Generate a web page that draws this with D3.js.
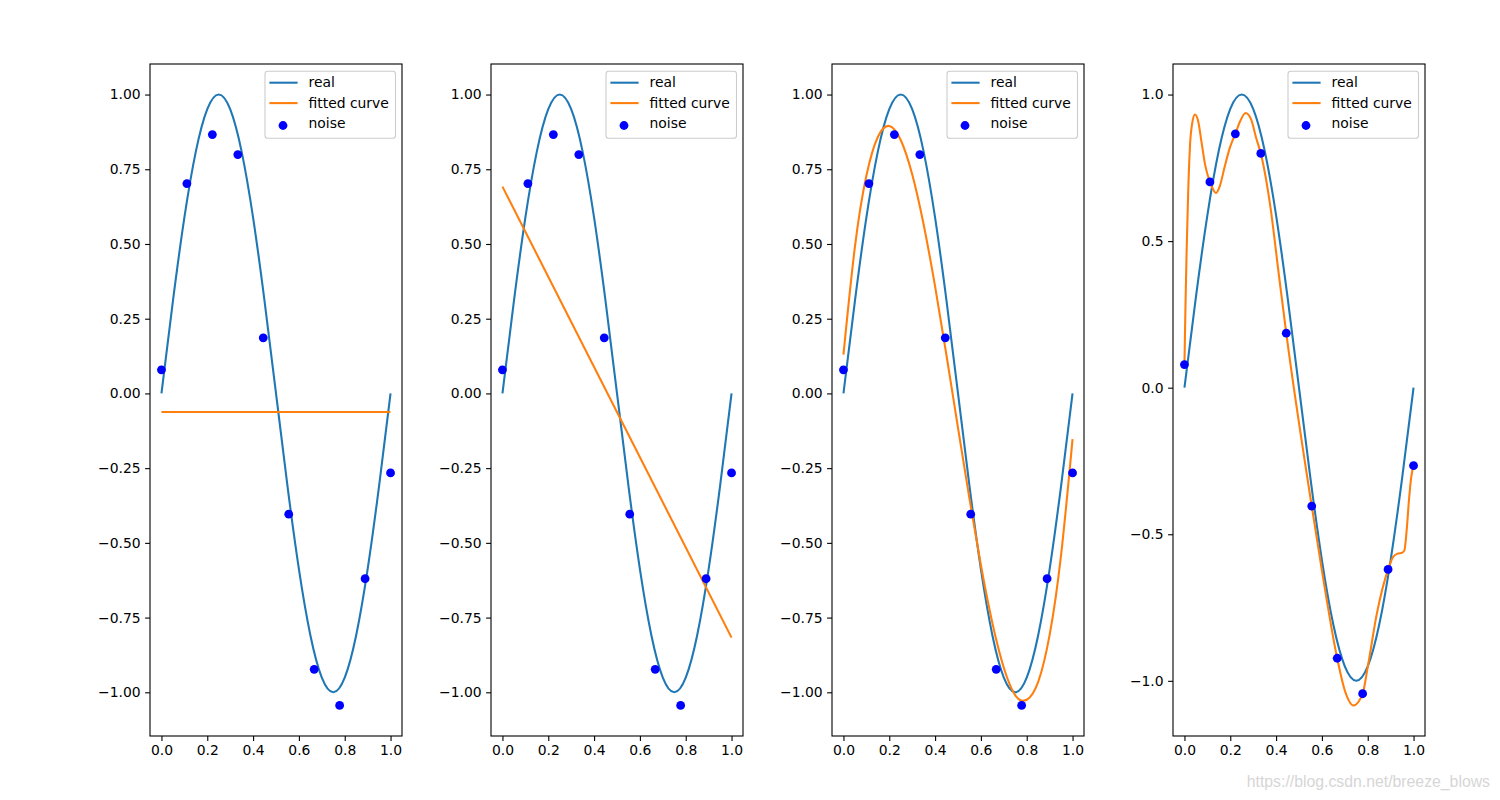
<!DOCTYPE html>
<html>
<head>
<meta charset="utf-8">
<script src="https://cdn.jsdelivr.net/npm/d3@7"></script>
<style>
  html, body { margin: 0; padding: 0; background: #ffffff; }
  svg { display: block; font-family: "DejaVu Sans", sans-serif; }
</style>
</head>
<body>
<svg id="chart" width="1500" height="800"></svg>
<script>
// ---------------- data ----------------
const noiseX = [0, 0.1111, 0.2222, 0.3333, 0.4444, 0.5556, 0.6667, 0.7778, 0.8889, 1.0];
const noiseY = [0.079, 0.702, 0.866, 0.799, 0.186, -0.404, -0.923, -1.044, -0.620, -0.266];

const realX = [0, 0.05, 0.1, 0.15, 0.2, 0.25, 0.3, 0.35, 0.4, 0.45, 0.5,
               0.55, 0.6, 0.65, 0.7, 0.75, 0.8, 0.85, 0.9, 0.95, 1.0];
const realY = [0, 0.309, 0.588, 0.809, 0.951, 1.0, 0.951, 0.809, 0.588, 0.309, 0,
               -0.309, -0.588, -0.809, -0.951, -1.0, -0.951, -0.809, -0.588, -0.309, 0];

const fitM0X = [0, 1.0];
const fitM0Y = [-0.062, -0.062];

const fitM1X = [0, 1.0];
const fitM1Y = [0.692, -0.817];

const fitM3X = [0, 0.05, 0.1, 0.15, 0.2, 0.25, 0.3, 0.35, 0.4, 0.45, 0.5,
                0.55, 0.6, 0.65, 0.7, 0.75, 0.8, 0.85, 0.9, 0.95, 1.0];
const fitM3Y = [0.13, 0.49, 0.728, 0.858, 0.895, 0.848, 0.733, 0.565, 0.358, 0.126, -0.115,
                -0.352, -0.575, -0.768, -0.918, -1.01, -1.025, -0.965, -0.808, -0.54, -0.153];

const fitM9X = [0, 0.004, 0.009, 0.016, 0.024, 0.034, 0.046, 0.060, 0.075, 0.090, 0.1111,
                0.126, 0.137, 0.154, 0.176, 0.198, 0.2222, 0.243, 0.267, 0.291, 0.313, 0.3333,
                0.375, 0.411, 0.4444, 0.5556, 0.6, 0.6667, 0.70, 0.738, 0.7778,
                0.80, 0.84, 0.8889, 0.91, 0.93, 0.95, 0.96, 0.97, 0.98, 0.99, 1.0];
const fitM9Y = [0.079, 0.26, 0.45, 0.66, 0.823, 0.903, 0.932, 0.909, 0.835, 0.761, 0.702,
                0.675, 0.664, 0.687, 0.755, 0.818, 0.866, 0.909, 0.937, 0.915, 0.852, 0.799,
                0.618, 0.392, 0.186, -0.404, -0.623, -0.923, -1.033, -1.084, -1.044,
                -0.953, -0.77, -0.620, -0.578, -0.566, -0.563, -0.555, -0.486, -0.384, -0.304, -0.266];

const xTicks = [0, 0.2, 0.4, 0.6, 0.8, 1.0];
const yTicksFine = [-1.0, -0.75, -0.5, -0.25, 0, 0.25, 0.5, 0.75, 1.0];
const yTicksCoarse = [-1.0, -0.5, 0, 0.5, 1.0];
const legendLabels = ["real", "fitted curve", "noise"];
const watermark = "https://blog.csdn.net/breeze_blows";

const panels = [
  { fitX: fitM0X, fitY: fitM0Y, yTicks: yTicksFine, yFmt: ".2f", smooth: false },
  { fitX: fitM1X, fitY: fitM1Y, yTicks: yTicksFine, yFmt: ".2f", smooth: false },
  { fitX: fitM3X, fitY: fitM3Y, yTicks: yTicksFine, yFmt: ".2f", smooth: "natural" },
  { fitX: fitM9X, fitY: fitM9Y, yTicks: yTicksCoarse, yFmt: ".1f", smooth: "monotone" }
];

// ---------------- layout ----------------
const BLUE = "#1f77b4", ORANGE = "#ff7f0e", DOT = "#0000ff";
const panelW = 252, gap = 89, left0 = 150, plotTop = 64, plotBottom = 736;
const fontPx = 13.9;

const svg = d3.select("#chart");

panels.forEach((p, i) => {
  const x0 = left0 + i * (panelW + gap);
  const x1 = x0 + panelW;

  // matplotlib-style autoscale with 5% margins
  const allY = realY.concat(noiseY, p.fitY);
  const ymin = d3.min(allY), ymax = d3.max(allY);
  const yr = ymax - ymin;
  const x = d3.scaleLinear().domain([-0.05, 1.05]).range([x0, x1]);
  const y = d3.scaleLinear().domain([ymin - 0.05 * yr, ymax + 0.05 * yr]).range([plotBottom, plotTop]);

  const g = svg.append("g");

  const clipId = "clip" + i;
  g.append("clipPath").attr("id", clipId)
    .append("rect").attr("x", x0).attr("y", plotTop).attr("width", panelW).attr("height", plotBottom - plotTop);

  const plot = g.append("g").attr("clip-path", `url(#${clipId})`);

  // real curve
  plot.append("path")
    .datum(d3.zip(realX, realY))
    .attr("fill", "none").attr("stroke", BLUE).attr("stroke-width", 2.08)
    .attr("d", d3.line().x(d => x(d[0])).y(d => y(d[1])).curve(d3.curveNatural));

  // fitted curve
  const curve = p.smooth === "monotone" ? d3.curveMonotoneX
              : p.smooth === "natural" ? d3.curveNatural : d3.curveLinear;
  plot.append("path")
    .datum(d3.zip(p.fitX, p.fitY))
    .attr("fill", "none").attr("stroke", ORANGE).attr("stroke-width", 2.08)
    .attr("d", d3.line().x(d => x(d[0])).y(d => y(d[1])).curve(curve));

  // noise points
  plot.selectAll("circle.noise")
    .data(d3.zip(noiseX, noiseY))
    .join("circle")
    .attr("class", "noise")
    .attr("cx", d => x(d[0])).attr("cy", d => y(d[1]))
    .attr("r", 4.4).attr("fill", DOT);

  // axes
  const xAxis = d3.axisBottom(x).tickValues(xTicks).tickFormat(d3.format(".1f"))
    .tickSizeOuter(0).tickSizeInner(4.9).tickPadding(4);
  const yAxis = d3.axisLeft(y).tickValues(p.yTicks).tickFormat(d3.format(p.yFmt))
    .tickSizeOuter(0).tickSizeInner(4.9).tickPadding(4.5);

  const gx = g.append("g").attr("transform", `translate(0,${plotBottom})`).call(xAxis);
  const gy = g.append("g").attr("transform", `translate(${x0},0)`).call(yAxis);
  [gx, gy].forEach(ax => {
    ax.select(".domain").remove();
    ax.selectAll(".tick line").attr("stroke", "#000").attr("stroke-width", 1.1);
    ax.selectAll(".tick text").attr("fill", "#000")
      .style("font-family", "'DejaVu Sans', sans-serif").style("font-size", fontPx + "px");
  });

  // spines
  g.append("rect")
    .attr("x", x0).attr("y", plotTop).attr("width", panelW).attr("height", plotBottom - plotTop)
    .attr("fill", "none").attr("stroke", "#000").attr("stroke-width", 1.1);

  // legend
  const lw = 130.5, lh = 67;
  const lx = x1 - 6.5 - lw, ly = plotTop + 7.2;
  const lg = g.append("g");
  lg.append("rect")
    .attr("x", lx).attr("y", ly).attr("width", lw).attr("height", lh)
    .attr("rx", 2.8).attr("ry", 2.8)
    .attr("fill", "#ffffff").attr("fill-opacity", 0.8)
    .attr("stroke", "#cccccc").attr("stroke-width", 1.1);
  const baselines = [ly + 16.2, ly + 36.6, ly + 57.1];
  legendLabels.forEach((lab, k) => {
    if (k < 2) {
      lg.append("line")
        .attr("x1", lx + 4.4).attr("x2", lx + 32.6)
        .attr("y1", baselines[k] - 4.7).attr("y2", baselines[k] - 4.7)
        .attr("stroke", k === 0 ? BLUE : ORANGE).attr("stroke-width", 2.08);
    } else {
      lg.append("circle")
        .attr("cx", lx + 18).attr("cy", baselines[k] - 2.8)
        .attr("r", 4.4).attr("fill", DOT);
    }
    lg.append("text")
      .attr("x", lx + 43.5).attr("y", baselines[k])
      .attr("fill", "#000")
      .style("font-size", fontPx + "px")
      .text(lab);
  });
});

// watermark
svg.append("text")
  .attr("x", 1490).attr("y", 787)
  .attr("text-anchor", "end")
  .attr("fill", "#d6d6d6")
  .style("font-family", "'Liberation Sans', Arial, sans-serif")
  .style("font-size", "15.8px")
  .text(watermark);
</script>
</body>
</html>
